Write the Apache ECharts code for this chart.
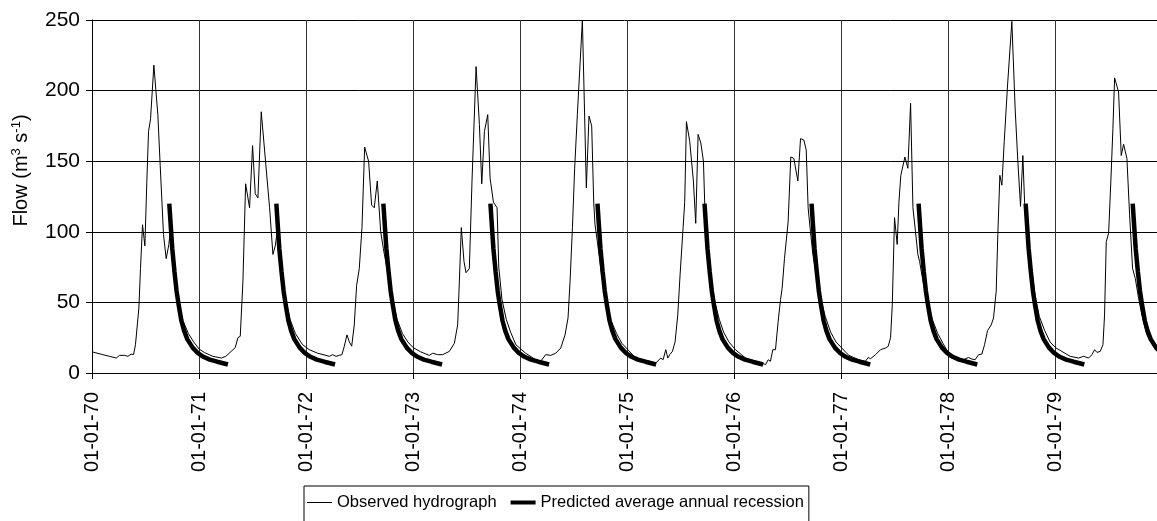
<!DOCTYPE html>
<html><head><meta charset="utf-8">
<script src="https://cdn.jsdelivr.net/npm/echarts@6/dist/echarts.min.js"></script>
<style>html,body{margin:0;padding:0;background:#fff}#c{width:1157px;height:521px}</style>
</head><body><div id="c"></div>
<script>
// x values are decimal years counted from 1970-01-01
const startYear = 1970;
const xLabels = ['01-01-70','01-01-71','01-01-72','01-01-73','01-01-74','01-01-75','01-01-76','01-01-77','01-01-78','01-01-79'];
const yTicks = [0, 50, 100, 150, 200, 250];

// Observed hydrograph (years since 1970-01-01, m3/s)
const obsT = [
0.000,0.101,0.164,0.226,0.257,0.304,0.335,0.366,0.388,0.406,0.438,0.453,0.472,0.494,0.512,0.528,0.547,0.578,0.615,0.637,0.668,0.693,0.718,0.730,0.76,0.80,0.85,0.90,0.95,
1.00,1.05,1.10,1.13,1.21,1.25,1.30,1.338,1.363,1.385,1.41,1.435,1.472,1.500,1.525,1.550,1.581,1.621,1.659,1.690,1.712,1.730,1.76,1.80,1.85,1.90,1.95,1.968,
2.030,2.108,2.186,2.217,2.248,2.279,2.310,2.335,2.357,2.382,2.404,2.426,2.450,2.472,2.497,2.522,2.547,2.584,2.612,2.637,2.665,2.697,2.722,2.76,2.80,2.85,2.90,2.95,
3.00,3.07,3.151,3.183,3.229,3.276,3.338,3.385,3.416,3.432,3.450,3.475,3.494,3.525,3.550,3.588,3.619,3.641,3.666,3.697,3.719,3.750,3.784,3.80,3.83,3.87,3.91,3.96,
4.051,4.145,4.192,4.238,4.285,4.332,4.379,4.419,4.447,4.466,4.488,4.509,4.534,4.581,4.618,4.643,4.668,4.687,4.699,4.721,4.76,4.80,4.85,4.90,4.95,
5.00,5.079,5.204,5.266,5.313,5.335,5.360,5.379,5.397,5.422,5.447,5.472,5.494,5.522,5.537,5.553,5.584,5.618,5.640,5.662,5.687,5.712,5.727,5.749,5.78,5.82,5.86,5.90,5.95,
6.011,6.105,6.198,6.261,6.292,6.317,6.338,6.360,6.385,6.410,6.432,6.447,6.469,6.503,6.528,6.556,6.594,6.619,6.650,6.672,6.690,6.712,6.734,6.77,6.81,6.85,6.90,6.95,
7.00,7.070,7.164,7.226,7.251,7.273,7.320,7.366,7.413,7.438,7.460,7.476,7.497,7.522,7.538,7.556,7.594,7.622,7.647,7.669,7.693,7.715,7.731,7.77,7.81,7.85,7.90,7.95,
8.001,8.079,8.141,8.188,8.219,8.250,8.282,8.313,8.338,8.366,8.400,8.422,8.447,8.462,8.481,8.500,8.522,8.553,8.593,8.624,8.649,8.674,8.696,8.712,8.727,8.77,8.81,8.85,8.90,8.95,
9.00,9.060,9.138,9.216,9.263,9.310,9.341,9.366,9.388,9.419,9.444,9.459,9.475,9.497,9.518,9.537,9.553,9.590,9.615,9.637,9.668,9.693,9.721,9.746,9.777,9.808,9.855,9.902,9.948
];
const obsFlow = [
15,13,11.8,10.6,12.5,12.5,11.8,13.4,13,20,46,74,105,90,135,171,180,218,183,147,98,81,91,100,72,52,37,28,22,
17,14.5,12.8,11.8,10.6,11.8,15.3,18,25,26,65,134,117,161,127,124,185,150,117,84,90,100,75,55,38,28,22,20,
16.5,14,12.5,11.8,13,11.8,12.5,13,19,27,22,19,34,62,74,103,160,150,119,117,136,100,88,72,54,38,28,22,
18,15,12.5,14,13,13,15.3,21,34,65,103,79,71,74,136,217,176,134,171,183,138,121,117,75,52,38,29,20,
14,9.4,8.3,13,12.5,14,17.7,27,39,65,103,145,183,250,131,182,175,121,105,93,70,53,37,28,21,
17,10.6,8.3,7,10.6,9.4,16.5,10.6,13,15.3,22,41,70,103,121,178,164,136,106,169,163,150,112,88,68,50,38,29,22,
16.5,10.6,8.3,7,5.9,9.4,8.3,16.5,16.5,36.6,52,60,81,107,153,152,136,166,165,158,117,100,84,68,52,40,29,22,
18,12.5,9.4,8.3,11,10.1,13,16.5,17.7,18.9,25,48,110,91,121,140,153,145,191,117,100,84,79,62,50,38,28,21,
14,10.6,9.4,11,9.9,9.4,13,13.4,20,30,34,39,58,98,140,133,164,204,249,187,150,118,154,121,103,78,55,40,30,22,
18,15.3,11.8,10.6,11.8,10.6,13,16.5,14.6,15.3,20,41,93,99,136,173,209,199,154,162,152,112,74,67,53,41,27,21,17.7
];

// Predicted average annual recession: same curve each year (offset in years from 1 Jan, m3/s)
const recOffset = [0.722,0.735,0.75,0.77,0.79,0.81,0.835,0.86,0.89,0.94,0.99,1.04,1.10,1.17,1.27];
const recFlow   = [120,105,88,72,58,48,37,30,24,18,14,11.5,9.5,8,6];
const recYears  = [0,1,2,3,4,5,6,7,8,9];

const FONT = 'Liberation Sans, Arial, Helvetica, sans-serif';
const obsData = obsT.map((t, i) => [startYear + t, obsFlow[i]]);
const obsName = 'Observed hydrograph';
const recName = 'Predicted average annual recession';
const recSeries = recYears.map(y => ({
  name: recName, type: 'line', symbol: 'none', animation: false, z: 2,
  itemStyle: {color: '#000'},
  lineStyle: {color: '#000', width: 4.5},
  data: recOffset.map((o, i) => [startYear + y + o, recFlow[i]])
}));

const chart = echarts.init(document.getElementById('c'), null, {renderer: 'canvas'});
chart.setOption({
  backgroundColor: '#fff',
  animation: false,
  textStyle: {fontFamily: FONT, color: '#000'},
  grid: {left: 92, right: 0, top: 20, bottom: 148, containLabel: false},
  legend: {
    left: 304, top: 486, orient: 'horizontal',
    padding: [8, 5, 12, 3], itemGap: 14, itemWidth: 25, itemHeight: 14,
    borderColor: '#000', borderWidth: 1, backgroundColor: '#fff',
    textStyle: {fontFamily: FONT, fontSize: 16.5, color: '#000'},
    data: [
      {name: obsName, icon: 'path://M0,0 H25 V1 H0 Z', itemStyle: {color: '#000'}},
      {name: recName, icon: 'path://M0,0 H25 V4 H0 Z', itemStyle: {color: '#000'}}
    ]
  },
  xAxis: {
    type: 'value', min: 1970, max: 1979.949, interval: 1,
    axisLine: {show: true, lineStyle: {color: '#000', width: 1}},
    axisTick: {show: true, length: 6, lineStyle: {color: '#000'}},
    splitLine: {show: true, lineStyle: {color: '#333', width: 1}},
    axisLabel: {
      rotate: 90, margin: 19, fontSize: 20, color: '#000', fontFamily: FONT,
      showMaxLabel: false,
      formatter: v => xLabels[Math.round(v - startYear)] || ''
    }
  },
  yAxis: {
    type: 'value', min: yTicks[0], max: yTicks[yTicks.length - 1], interval: 50,
    name: 'Flow (m{sup|3} s{sup|-1})', nameLocation: 'middle', nameRotate: 90, nameGap: 60,
    nameTextStyle: {fontFamily: FONT, fontSize: 20, color: '#000', padding: [0, 0, 0, 52],
      rich: {sup: {fontSize: 13, verticalAlign: 'top', padding: [0, 0, 9, 0], fontFamily: FONT, color: '#000'}}},
    axisLine: {show: true, lineStyle: {color: '#000', width: 1}},
    axisTick: {show: true, length: 6, lineStyle: {color: '#000'}},
    splitLine: {show: true, lineStyle: {color: '#000', width: 1}},
    axisLabel: {fontSize: 21, color: '#000', margin: 12, fontFamily: FONT}
  },
  series: [
    {name: obsName, type: 'line', symbol: 'none', z: 3,
     itemStyle: {color: '#000'},
     lineStyle: {color: '#000', width: 1}, data: obsData}
  ].concat(recSeries)
});
</script></body></html>
